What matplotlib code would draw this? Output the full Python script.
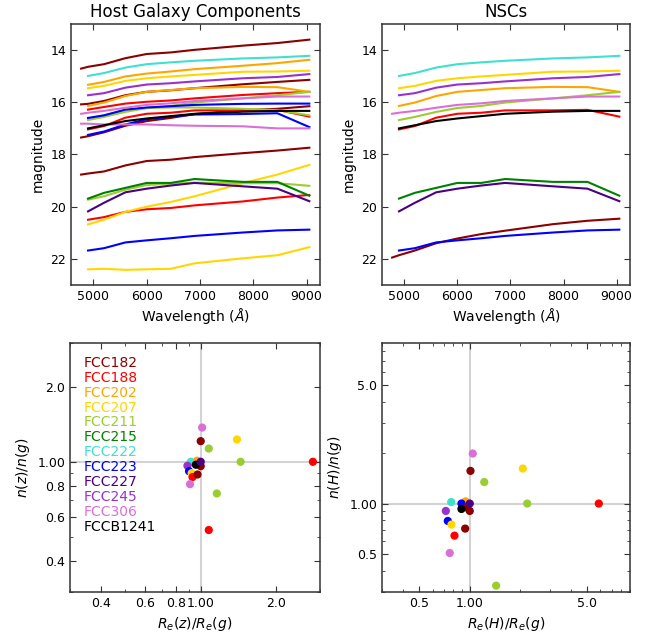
import numpy as np
import matplotlib
matplotlib.use('Agg')
import matplotlib.pyplot as plt
from matplotlib.ticker import NullFormatter

nan = np.nan

# wavelength grid (Angstrom) shared by all SEDs
lam = [4770, 4900, 5200, 5600, 6000, 6450, 6900, 7800, 8450, 9050]

galaxies = ['FCC182', 'FCC188', 'FCC202', 'FCC207', 'FCC211', 'FCC215',
            'FCC222', 'FCC223', 'FCC227', 'FCC245', 'FCC306', 'FCCB1241']
colors = ['darkred', 'red', 'orange', 'gold', 'yellowgreen', 'green',
          'turquoise', 'blue', 'indigo', 'darkorchid', 'orchid', 'black']

# host galaxy components: galaxy of each line + magnitudes
host_gal = ['FCC182', 'FCC182', 'FCC182', 'FCC182',
            'FCC188', 'FCC188', 'FCC188',
            'FCC202', 'FCC202',
            'FCC207', 'FCC207', 'FCC207',
            'FCC211', 'FCC211', 'FCC211',
            'FCC215', 'FCC222',
            'FCC223', 'FCC223', 'FCC223',
            'FCC227', 'FCC245', 'FCC306', 'FCC306', 'FCCB1241']
host_mag = [
    [14.71, 14.64, 14.54, 14.31, 14.15, 14.09, 13.99, 13.83, 13.73, 13.60],
    [16.08, 16.06, 15.95, 15.73, 15.60, 15.54, 15.46, 15.31, 15.22, 15.14],
    [17.35, 17.30, 17.15, 16.90, 16.72, 16.60, 16.45, 16.30, 16.25, 16.15],
    [18.77, 18.73, 18.65, 18.42, 18.25, 18.20, 18.10, 17.95, 17.85, 17.74],
    [nan, 16.28, 16.18, 16.05, 15.98, 15.93, 15.85, 15.72, 15.65, 15.60],
    [nan, 17.04, 16.91, 16.59, 16.44, 16.40, 16.31, 16.31, 16.29, 16.55],
    [nan, 20.50, 20.40, 20.20, 20.10, 20.05, 19.95, 19.80, 19.65, 19.55],
    [nan, 15.33, 15.22, 15.01, 14.90, 14.82, 14.73, 14.60, 14.50, 14.37],
    [nan, 16.14, 16.01, 15.76, 15.60, 15.53, 15.46, 15.41, 15.42, 15.60],
    [nan, 15.46, 15.37, 15.18, 15.08, 15.01, 14.95, 14.83, 14.82, 14.79],
    [nan, 20.68, 20.50, 20.20, 20.00, 19.82, 19.60, 19.10, 18.77, 18.40],
    [nan, 22.40, 22.38, 22.42, 22.40, 22.38, 22.17, 21.98, 21.86, 21.55],
    [nan, 16.68, 16.56, 16.37, 16.22, 16.14, 16.01, 15.85, 15.73, 15.60],
    [nan, 16.62, 16.50, 16.30, 16.22, 16.20, 16.20, 16.25, 16.30, 16.50],
    [nan, 19.73, 19.60, 19.35, 19.17, 19.12, 19.08, 19.10, 19.10, 19.20],
    [nan, 19.69, 19.47, 19.28, 19.09, 19.09, 18.94, 19.05, 19.05, 19.58],
    [nan, 14.99, 14.88, 14.67, 14.54, 14.47, 14.41, 14.32, 14.28, 14.22],
    [nan, 16.60, 16.50, 16.28, 16.20, 16.15, 16.10, 16.06, 16.05, 16.05],
    [nan, 17.25, 17.12, 16.85, 16.65, 16.55, 16.47, 16.45, 16.42, 16.95],
    [nan, 21.68, 21.59, 21.37, 21.29, 21.21, 21.12, 20.99, 20.91, 20.88],
    [nan, 20.18, 19.85, 19.45, 19.31, 19.19, 19.09, 19.22, 19.31, 19.79],
    [nan, 15.73, 15.65, 15.44, 15.32, 15.27, 15.20, 15.08, 15.03, 14.92],
    [16.44, 16.40, 16.33, 16.21, 16.10, 16.04, 15.95, 15.85, 15.78, 15.78],
    [16.82, 16.82, 16.85, 16.85, 16.85, 16.88, 16.90, 16.92, 17.00, 17.00],
    [nan, 17.00, 16.88, 16.72, 16.62, 16.53, 16.44, 16.36, 16.33, 16.33],
]

# NSC magnitudes, one line per galaxy (same order as galaxies)
nsc_mag = [
    [21.95, 21.86, 21.68, 21.40, 21.22, 21.05, 20.92, 20.67, 20.54, 20.46],
    [nan, 17.04, 16.91, 16.59, 16.44, 16.40, 16.31, 16.31, 16.29, 16.55],
    [nan, 16.14, 16.01, 15.76, 15.60, 15.53, 15.46, 15.41, 15.42, 15.60],
    [nan, 15.46, 15.37, 15.18, 15.08, 15.01, 14.95, 14.83, 14.82, 14.79],
    [nan, 16.68, 16.56, 16.37, 16.22, 16.14, 16.01, 15.85, 15.73, 15.60],
    [nan, 19.69, 19.47, 19.28, 19.09, 19.09, 18.94, 19.05, 19.05, 19.58],
    [nan, 14.99, 14.88, 14.67, 14.54, 14.47, 14.41, 14.32, 14.28, 14.22],
    [nan, 21.68, 21.59, 21.37, 21.29, 21.21, 21.12, 20.99, 20.91, 20.88],
    [nan, 20.18, 19.85, 19.45, 19.31, 19.19, 19.09, 19.22, 19.31, 19.79],
    [nan, 15.73, 15.65, 15.44, 15.32, 15.27, 15.20, 15.08, 15.03, 14.92],
    [16.44, 16.40, 16.33, 16.21, 16.10, 16.04, 15.95, 15.85, 15.78, 15.78],
    [nan, 17.00, 16.88, 16.72, 16.62, 16.53, 16.44, 16.36, 16.33, 16.33],
]

# structural ratios, z band vs g band
z_gal = ['FCC306', 'FCC182', 'FCC207', 'FCC211', 'FCC211', 'FCC188', 'FCC222',
         'FCC202', 'FCC245', 'FCC223', 'FCC207', 'FCC188', 'FCC182', 'FCC306',
         'FCC211', 'FCC188', 'FCC182', 'FCCB1241', 'FCC227']
z_re = [1.013, 1.00, 1.396, 1.077, 1.444, 2.81, 0.913, 0.967, 0.885, 0.898,
        0.92, 0.927, 0.971, 0.906, 1.16, 1.077, 1.00, 0.956, 1.00]
z_n = [1.372, 1.21, 1.229, 1.13, 1.00, 1.00, 1.00, 1.01, 0.964, 0.917,
       0.90, 0.868, 0.889, 0.813, 0.746, 0.532, 0.96, 0.973, 1.00]

# structural ratios, H band vs g band
h_gal = ['FCC306', 'FCC182', 'FCC207', 'FCC211', 'FCC211', 'FCC188', 'FCC222',
         'FCC202', 'FCC223', 'FCC182', 'FCCB1241', 'FCC182', 'FCC245', 'FCC223',
         'FCC207', 'FCC182', 'FCC188', 'FCC306', 'FCC211', 'FCC227']
h_re = [1.042, 1.01, 2.07, 1.22, 2.20, 5.87, 0.775, 0.943, 0.892, 0.95,
        0.892, 1.00, 0.72, 0.74, 0.778, 0.939, 0.811, 0.76, 1.436, 1.00]
h_n = [1.976, 1.56, 1.61, 1.34, 1.00, 1.00, 1.02, 1.03, 1.00, 0.95,
       0.929, 0.904, 0.904, 0.789, 0.751, 0.711, 0.646, 0.51, 0.327, 1.00]

col = dict(zip(galaxies, colors))

fig = plt.figure(figsize=(6.56, 6.33), dpi=100)
ax1 = fig.add_axes([0.1082, 0.5498, 0.3796, 0.4123])
ax2 = fig.add_axes([0.5823, 0.5498, 0.3780, 0.4123])
ax3 = fig.add_axes([0.1067, 0.0648, 0.3811, 0.3934])
ax4 = fig.add_axes([0.5823, 0.0648, 0.3780, 0.3934])


def style(ax):
    ax.tick_params(which='both', direction='in', top=True, right=True,
                   labelsize=9, color='0.2')
    ax.tick_params(which='major', length=4)
    ax.tick_params(which='minor', length=2.5)
    for s in ax.spines.values():
        s.set_color('0.2')
        s.set_linewidth(1.1)


# top panels: SEDs
for g, m in zip(host_gal, host_mag):
    ax1.plot(lam, m, color=col[g], lw=1.5)
for g, m in zip(galaxies, nsc_mag):
    ax2.plot(lam, m, color=col[g], lw=1.5)

for ax, title in [(ax1, 'Host Galaxy Components'), (ax2, 'NSCs')]:
    ax.set_xlim(4580, 9250)
    ax.set_ylim(23, 13)
    ax.set_xticks([5000, 6000, 7000, 8000, 9000])
    ax.set_yticks([14, 16, 18, 20, 22])
    ax.set_xlabel(r'Wavelength ($\AA$)', fontsize=10, labelpad=2)
    ax.set_ylabel('magnitude', fontsize=10)
    ax.set_title(title, fontsize=12, pad=5)
    style(ax)

# bottom panels: structural ratios
for ax, gal, xs, ys in [(ax3, z_gal, z_re, z_n), (ax4, h_gal, h_re, h_n)]:
    ax.axvline(1.0, color='lightgray', lw=1.5, zorder=1)
    ax.axhline(1.0, color='lightgray', lw=1.5, zorder=1)
    ax.scatter(xs, ys, c=[col[g] for g in gal], s=24, zorder=3)
    ax.set_xscale('log')
    ax.set_yscale('log')
    ax.xaxis.set_minor_formatter(NullFormatter())
    ax.yaxis.set_minor_formatter(NullFormatter())
    style(ax)

ax3.set_xlim(0.3, 3.0)
ax3.set_ylim(0.3, 3.0)
ax3.set_xticks([0.4, 0.6, 0.8, 1.0, 2.0], ['0.4', '0.6', '0.8', '1.00', '2.0'])
ax3.set_yticks([0.4, 0.6, 0.8, 1.0, 2.0], ['0.4', '0.6', '0.8', '1.00', '2.0'])
ax3.set_xlabel(r'$R_e(z)/R_e(g)$', fontsize=10)
ax3.set_ylabel(r'$n(z)/n(g)$', fontsize=10)

ax4.set_xlim(0.3, 9.0)
ax4.set_ylim(0.3, 8.9)
ax4.set_xticks([0.5, 1.0, 5.0], ['0.5', '1.00', '5.0'])
ax4.set_yticks([0.5, 1.0, 5.0], ['0.5', '1.00', '5.0'])
ax4.set_xlabel(r'$R_e(H)/R_e(g)$', fontsize=10)
ax4.set_ylabel(r'$n(H)/n(g)$', fontsize=10)

# coloured galaxy names as legend
for i, (g, c) in enumerate(zip(galaxies, colors)):
    ax3.text(0.053, 0.92 - i * 0.0598, g, color=c, fontsize=10,
             va='center', ha='left', transform=ax3.transAxes)

fig.savefig('out.png', dpi=100)
